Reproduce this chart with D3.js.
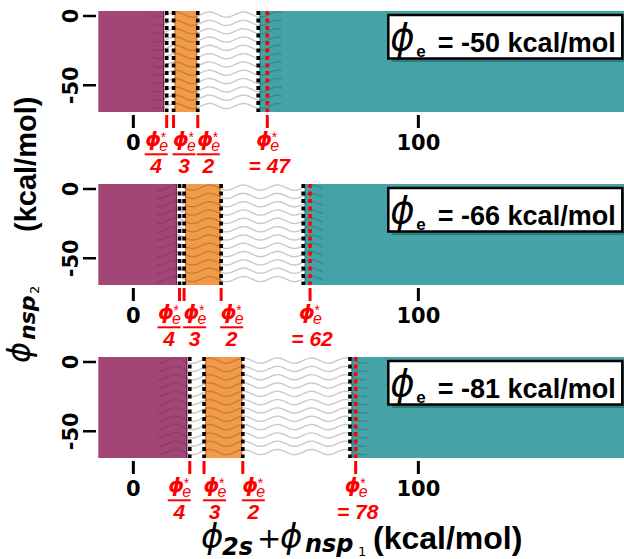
<!DOCTYPE html>
<html>
<head>
<meta charset="utf-8">
<script src="https://cdn.jsdelivr.net/npm/d3@7"></script>
<style>
  body { margin: 0; background: #fff; }
  svg { display: block; }
</style>
</head>
<body>
<svg id="chart" width="624" height="559"></svg>
<script>
// Electrostatic energy of each panel and its critical value φ*e
const phiE = [-50, -66, -81];
const phiStar = [47, 62, 78];
// Region cuts along φ2s + φnsp1 (kcal/mol), near φ*e/4, φ*e/3, φ*e/2 and φ*e
const cutQuarter = [11.7, 16.2, 19.8];
const cutThird = [14.1, 17.8, 24.8];
const cutHalf = [22.6, 30.8, 38.4];
const cutTeal = [43.8, 59.6, 76.0];
// Extent of the wavy transition band
const waveFrom = [6.4, 8.1, 8.6];
const waveTo = [52.0, 66.5, 81.8];
const waveRows = [1, -5, -11, -17, -23, -29, -35, -41, -47, -53, -59, -65];
// Axes
const xTicks = [0, 100];
const yTicks = [0, -50];
const xDomain = [-12.3, 173];
const yDomain = [-69.3, 3.6];
const fracDenoms = ["4", "3", "2"];

const COLORS = {
  purple: "#a34577", purpleEdge: "#7d1f55",
  orange: "#f29a45", orangeEdge: "#e47b1c",
  teal: "#43a3a7", tealEdge: "#2f8085",
  red: "#ff0000"
};
const SANS = "'Liberation Sans', Arial, sans-serif";
const MATH = "'DejaVu Sans', sans-serif";

const svg = d3.select("#chart");
const panelTops = [11, 184, 357];
const panelH = 101;
const plotLeft = 98.3, plotRight = 626.4;

const x = d3.scaleLinear().domain(xDomain).range([plotLeft, plotRight]);

const defs = svg.append("defs");

phiE.forEach((pe, i) => {
  const top = panelTops[i];
  const bottom = top + panelH;
  const y = d3.scaleLinear().domain(yDomain).range([bottom, top]);
  const g = svg.append("g").attr("class", "panel");

  const clipId = "clip" + i;
  defs.append("clipPath").attr("id", clipId)
    .append("rect").attr("x", plotLeft).attr("y", top)
    .attr("width", plotRight - plotLeft).attr("height", panelH);

  const y0 = y(yDomain[1]), y1 = y(yDomain[0]);

  // filled regions
  const xp = x(cutQuarter[i]) - 2.5;
  g.append("rect").attr("x", x(xDomain[0])).attr("y", y0)
    .attr("width", xp - x(xDomain[0])).attr("height", y1 - y0)
    .attr("fill", COLORS.purple);
  g.append("line").attr("x1", xp - 0.6).attr("x2", xp - 0.6).attr("y1", y0).attr("y2", y1)
    .attr("stroke", COLORS.purpleEdge).attr("stroke-width", 1.2);

  const xo0 = x(cutThird[i]) + 1, xo1 = x(cutHalf[i]) - 0.5;
  g.append("rect").attr("x", xo0).attr("y", y0)
    .attr("width", xo1 - xo0).attr("height", y1 - y0)
    .attr("fill", COLORS.orange);
  [xo0 + 0.6, xo1 - 0.6].forEach(v => g.append("line")
    .attr("x1", v).attr("x2", v).attr("y1", y0).attr("y2", y1)
    .attr("stroke", COLORS.orangeEdge).attr("stroke-width", 1.2));

  const xt = x(cutTeal[i]) + 1.5;
  g.append("rect").attr("x", xt).attr("y", y0)
    .attr("width", x(xDomain[1]) - xt).attr("height", y1 - y0)
    .attr("fill", COLORS.teal);
  g.append("line").attr("x1", xt + 0.6).attr("x2", xt + 0.6).attr("y1", y0).attr("y2", y1)
    .attr("stroke", COLORS.tealEdge).attr("stroke-width", 1.2);

  // wavy texture across the transition band
  const wg = g.append("g").attr("clip-path", `url(#${clipId})`);
  const wx0 = x(waveFrom[i]), wx1 = x(waveTo[i]);
  const wavelength = 34, amp = 2.6;
  const xs = d3.range(wx0, wx1 + 0.5, 1);
  const line = d3.line().curve(d3.curveBasis);
  waveRows.forEach(r => {
    const base = y(r);
    const pts = xs.map(px => [px, base + amp * Math.sin(2 * Math.PI * (px - 150) / wavelength)]);
    wg.append("path").attr("d", line(pts))
      .attr("fill", "none").attr("stroke", "#3a3a3a")
      .attr("stroke-opacity", 0.27).attr("stroke-width", 1.4);
  });

  // dotted boundaries
  [cutQuarter[i], cutThird[i], cutHalf[i], cutTeal[i]].forEach(v => {
    g.append("line").attr("x1", x(v)).attr("x2", x(v)).attr("y1", y0).attr("y2", y1)
      .attr("stroke", "#000").attr("stroke-width", 3.6)
      .attr("stroke-dasharray", "4,3.5");
  });
  g.append("line").attr("x1", x(phiStar[i])).attr("x2", x(phiStar[i]))
    .attr("y1", y0).attr("y2", y1)
    .attr("stroke", COLORS.red).attr("stroke-width", 3.6)
    .attr("stroke-dasharray", "4,3.5");

  // y axis
  yTicks.forEach(t => {
    g.append("line").attr("x1", 83).attr("x2", 96).attr("y1", y(t)).attr("y2", y(t))
      .attr("stroke", "#000").attr("stroke-width", 2.5);
    g.append("text").attr("transform", `translate(78,${y(t)}) rotate(-90)`)
      .attr("text-anchor", "middle").attr("font-family", MATH)
      .attr("font-weight", "bold").attr("font-size", 21).text(t);
  });

  // x axis (numeric ticks)
  xTicks.forEach(t => {
    g.append("line").attr("x1", x(t)).attr("x2", x(t)).attr("y1", bottom + 3).attr("y2", bottom + 16)
      .attr("stroke", "#000").attr("stroke-width", 3);
    g.append("text").attr("x", x(t)).attr("y", bottom + 38)
      .attr("text-anchor", "middle").attr("font-family", MATH)
      .attr("font-weight", "bold").attr("font-size", 21).text(t);
  });

  // red ticks at the cut positions and φ*e
  const redCuts = [cutQuarter[i], cutThird[i], cutHalf[i], phiStar[i]];
  redCuts.forEach(v => {
    g.append("line").attr("x1", x(v)).attr("x2", x(v)).attr("y1", bottom + 3).attr("y2", bottom + 16)
      .attr("stroke", COLORS.red).attr("stroke-width", 3);
  });

  // φ*e symbol
  function phiStarSym(gx) {
    const s = g.append("g").attr("fill", COLORS.red);
    s.append("text").attr("x", gx).attr("y", bottom + 34)
      .attr("font-family", MATH).attr("font-weight", "bold").attr("font-style", "italic")
      .attr("font-size", 20).text("ϕ");
    s.append("text").attr("x", gx + 15.5).attr("y", bottom + 29.5)
      .attr("font-family", SANS).attr("font-size", 14).text("*");
    s.append("text").attr("x", gx + 14).attr("y", bottom + 39)
      .attr("font-family", SANS).attr("font-style", "italic").attr("font-size", 16).text("e");
  }
  const w = 23;
  fracDenoms.forEach((d, k) => {
    const tx = x(redCuts[k]);
    const gx = k === 0 ? tx - w + 1 : tx - 1;
    phiStarSym(gx + 0.5);
    g.append("line").attr("x1", gx).attr("x2", gx + w)
      .attr("y1", bottom + 42.3).attr("y2", bottom + 42.3)
      .attr("stroke", COLORS.red).attr("stroke-width", 2);
    g.append("text").attr("x", gx + w / 2).attr("y", bottom + 61)
      .attr("text-anchor", "middle").attr("fill", COLORS.red)
      .attr("font-family", SANS).attr("font-weight", "bold").attr("font-style", "italic")
      .attr("font-size", 21).text(d);
  });
  const sx = x(phiStar[i]);
  phiStarSym(sx - 11);
  g.append("text").attr("x", sx + 2).attr("y", bottom + 61)
    .attr("text-anchor", "middle").attr("fill", COLORS.red)
    .attr("font-family", SANS).attr("font-weight", "bold").attr("font-style", "italic")
    .attr("font-size", 21).text("= " + phiStar[i]);

  // legend box
  const lx = 388.3, ly = top + 4, lw = 234, lh = 43.5;
  g.append("rect").attr("x", lx + 3.5).attr("y", ly + 3.5).attr("width", lw).attr("height", lh)
    .attr("fill", "#000").attr("fill-opacity", 0.25);
  g.append("rect").attr("x", lx).attr("y", ly).attr("width", lw).attr("height", lh)
    .attr("fill", "#fff").attr("stroke", "#000").attr("stroke-width", 2.5);
  g.append("text").attr("x", lx + 2).attr("y", top + 39)
    .attr("font-family", MATH).attr("font-style", "italic").attr("font-size", 37).text("ϕ");
  g.append("text").attr("x", lx + 28).attr("y", top + 45.5)
    .attr("font-family", SANS).attr("font-weight", "bold").attr("font-size", 17).text("e");
  g.append("text").attr("x", lx + 49.5).attr("y", top + 40.7)
    .attr("font-family", SANS).attr("font-weight", "bold").attr("font-size", 27)
    .text(`= ${pe} kcal/mol`);
});

// y axis title: ϕnsp2 (kcal/mol), reading bottom to top
const yt = svg.append("g").attr("transform", "rotate(-90)");
yt.append("text").attr("x", -363).attr("y", 30)
  .attr("font-family", MATH).attr("font-style", "italic").attr("font-size", 32).text("ϕ");
yt.append("text").attr("x", -340).attr("y", 35)
  .attr("font-family", MATH).attr("font-weight", "bold").attr("font-style", "italic")
  .attr("font-size", 22).text("nsp");
yt.append("text").attr("x", -294).attr("y", 39)
  .attr("font-family", MATH).attr("font-size", 13).text("2");
yt.append("text").attr("x", -232).attr("y", 36)
  .attr("font-family", SANS).attr("font-weight", "bold").attr("font-size", 29).text("(kcal/mol)");

// x axis title: ϕ2s + ϕnsp1 (kcal/mol)
const xt = svg.append("g");
xt.append("text").attr("x", 201).attr("y", 548)
  .attr("font-family", MATH).attr("font-style", "italic").attr("font-size", 34).text("ϕ");
xt.append("text").attr("x", 222).attr("y", 555)
  .attr("font-family", MATH).attr("font-weight", "bold").attr("font-style", "italic")
  .attr("font-size", 24).text("2s");
xt.append("text").attr("x", 257).attr("y", 548)
  .attr("font-family", MATH).attr("font-size", 29).text("+");
xt.append("text").attr("x", 280).attr("y", 548)
  .attr("font-family", MATH).attr("font-style", "italic").attr("font-size", 34).text("ϕ");
xt.append("text").attr("x", 305).attr("y", 552)
  .attr("font-family", MATH).attr("font-weight", "bold").attr("font-style", "italic")
  .attr("font-size", 24).text("nsp");
xt.append("text").attr("x", 358).attr("y", 556)
  .attr("font-family", MATH).attr("font-size", 13).text("1");
xt.append("text").attr("x", 373).attr("y", 549)
  .attr("font-family", SANS).attr("font-weight", "bold").attr("font-size", 32).text("(kcal/mol)");
</script>
</body>
</html>
